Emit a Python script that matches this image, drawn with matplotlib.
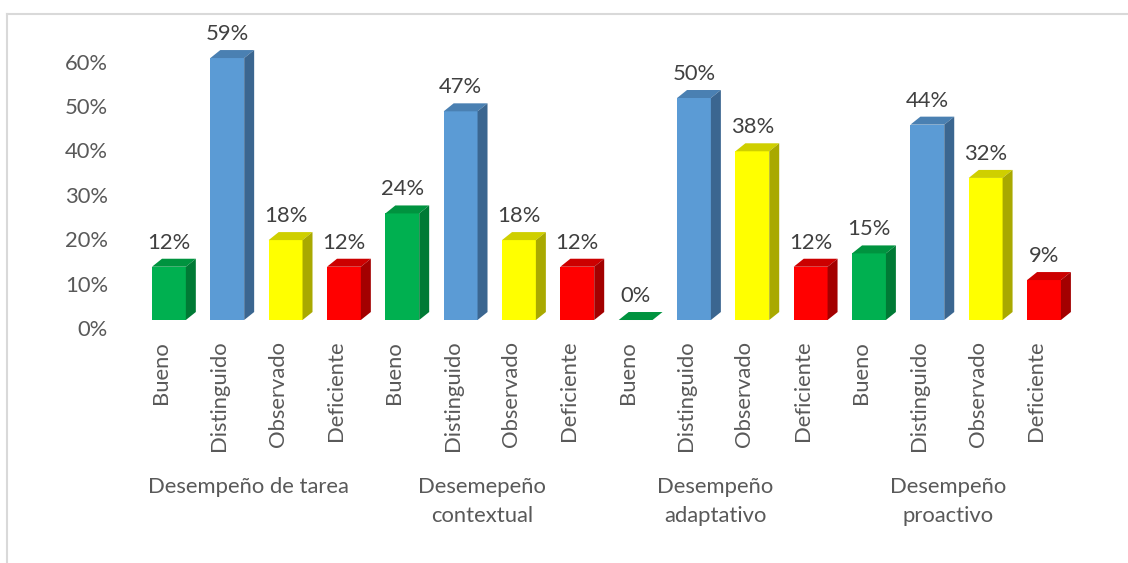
import matplotlib
matplotlib.use("Agg")
import matplotlib.pyplot as plt
from matplotlib.patches import Polygon
from matplotlib.lines import Line2D
from matplotlib.transforms import ScaledTranslation

# ---- data ----
groups = ["Desempeño de tarea", "Desemepeño\ncontextual", "Desempeño\nadaptativo", "Desempeño\nproactivo"]
levels = ["Bueno", "Distinguido", "Observado", "Deficiente"]
tarea = [12, 59, 18, 12]
contextual = [24, 47, 18, 12]
adaptativo = [0, 50, 38, 12]
proactivo = [15, 44, 32, 9]
yticks = [0, 10, 20, 30, 40, 50, 60]

values = tarea + contextual + adaptativo + proactivo
labels = levels * len(groups)

front_c = {"Bueno": "#00B050", "Distinguido": "#5B9BD5", "Observado": "#FFFF00", "Deficiente": "#FF0000"}
top_c = {"Bueno": "#00933F", "Distinguido": "#4A80B2", "Observado": "#CFCF00", "Deficiente": "#CC0000"}
side_c = {"Bueno": "#007A35", "Distinguido": "#3B6690", "Observado": "#A9A900", "Deficiente": "#A30000"}

FS = 15.8
plt.rcParams["font.family"] = ["Lato", "DejaVu Sans"]
fig = plt.figure(figsize=(11.28, 5.63), dpi=100)
ax = fig.add_axes([0.1239, 0.4316, 0.8275, 0.4732])

w = 0.58
dx = 0.171
dy = 1.8
xs = list(range(len(values)))
for x, v, lab in zip(xs, values, labels):
    ax.bar(x, v, width=w, color=front_c[lab], edgecolor="none", zorder=2, clip_on=False)
    l, r = x - w / 2, x + w / 2
    top = Polygon([(l, v), (r, v), (r + dx, v + dy), (l + dx, v + dy)], closed=True,
                  facecolor=top_c[lab], edgecolor="none", zorder=3, clip_on=False)
    ax.add_patch(top)
    if v > 0:
        side = Polygon([(r, 0), (r + dx, dy), (r + dx, v + dy), (r, v)], closed=True,
                       facecolor=side_c[lab], edgecolor="none", zorder=3, clip_on=False)
        ax.add_patch(side)
    ax.annotate(f"{v}%", (x, v), xytext=(0, 17.3), textcoords="offset points",
                ha="center", va="center", fontsize=FS, color="#404040")

ax.set_xlim(-0.5, len(values) - 0.5)
ax.set_ylim(0, 60)
for s in ax.spines.values():
    s.set_visible(False)
ax.set_yticks(yticks)
ax.set_yticklabels([f"{t}%" for t in yticks], fontsize=FS, color="#595959")
ax.tick_params(axis="y", length=0, pad=23)
ax.set_xticks(xs)
ax.set_xticklabels(labels, rotation=90, fontsize=FS, color="#595959", va="top", ha="center")
ax.tick_params(axis="x", length=0, pad=15)

off_y = ScaledTranslation(0, -0.08, fig.dpi_scale_trans)
for t in ax.get_yticklabels():
    t.set_transform(t.get_transform() + off_y)
off_x = ScaledTranslation(-0.08, 0, fig.dpi_scale_trans)
for t in ax.get_xticklabels():
    t.set_transform(t.get_transform() + off_x)

trans = ax.get_xaxis_transform() + off_x
for gi, g in enumerate(groups):
    cx = gi * 4 + 1.5
    ax.annotate(g, (cx, 0), xycoords=trans, xytext=(0, -113), textcoords="offset points",
                ha="center", va="top", fontsize=FS, color="#595959",
                multialignment="center", linespacing=1.55, annotation_clip=False)

# outer frame (partial, as in reference)
fig.add_artist(Line2D([6.5 / 1128, 6.5 / 1128], [0, 1 - 14 / 563], color="#D9D9D9", lw=1.5))
fig.add_artist(Line2D([6.5 / 1128, 1], [1 - 14 / 563, 1 - 14 / 563], color="#D9D9D9", lw=1.5))

fig.savefig("out.png", dpi=100, facecolor="white")
